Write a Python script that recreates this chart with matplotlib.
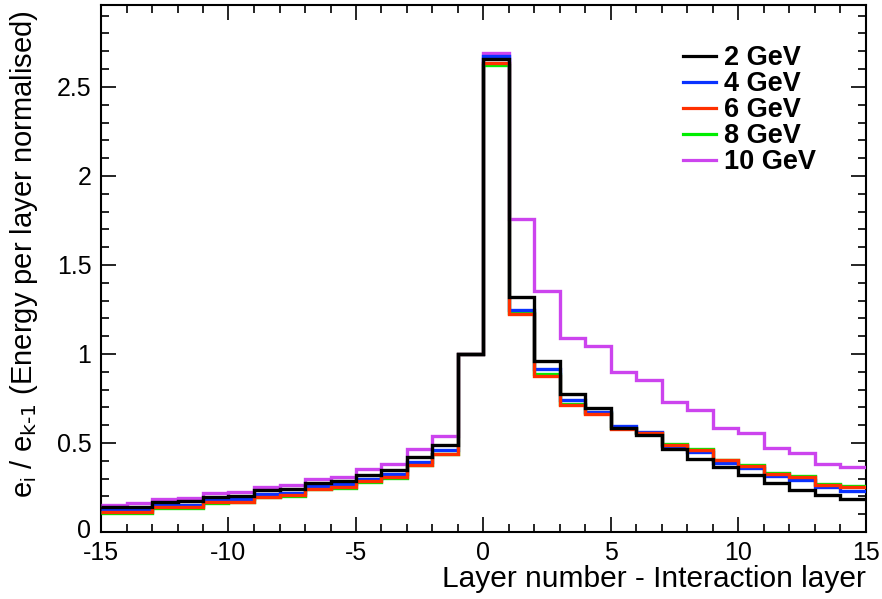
import numpy as np
import matplotlib
matplotlib.use("Agg")
import matplotlib.pyplot as plt
import matplotlib.transforms as mtransforms
from matplotlib.ticker import MultipleLocator, FormatStrFormatter

plt.rcParams['font.family'] = ['Liberation Sans', 'DejaVu Sans']
plt.rcParams['mathtext.default'] = 'regular'
plt.rcParams['axes.unicode_minus'] = False

# bin edges: layer number - interaction layer, -15 .. 15
edges = np.arange(-15, 16, 1)

labels = ["2 GeV", "4 GeV", "6 GeV", "8 GeV", "10 GeV"]

e2 = [0.142, 0.142, 0.169, 0.172, 0.198, 0.204, 0.236, 0.243, 0.277, 0.288, 0.322, 0.348, 0.421, 0.490,
      1.0, 2.655,
      1.320, 0.961, 0.775, 0.697, 0.586, 0.545, 0.464, 0.408, 0.363, 0.320, 0.277, 0.236, 0.208, 0.185]
e4 = [0.124, 0.124, 0.150, 0.153, 0.180, 0.184, 0.213, 0.221, 0.257, 0.268, 0.300, 0.324, 0.394, 0.463,
      1.0, 2.675,
      1.247, 0.914, 0.743, 0.676, 0.596, 0.560, 0.483, 0.448, 0.388, 0.361, 0.315, 0.292, 0.251, 0.232]
e6 = [0.111, 0.113, 0.138, 0.141, 0.167, 0.171, 0.199, 0.207, 0.243, 0.253, 0.285, 0.310, 0.378, 0.440,
      1.0, 2.635,
      1.225, 0.878, 0.713, 0.665, 0.579, 0.554, 0.489, 0.461, 0.403, 0.373, 0.326, 0.307, 0.264, 0.255]
e8 = [0.107, 0.109, 0.134, 0.137, 0.163, 0.167, 0.195, 0.203, 0.239, 0.249, 0.281, 0.305, 0.374, 0.437,
      1.0, 2.625,
      1.230, 0.890, 0.718, 0.668, 0.582, 0.557, 0.493, 0.465, 0.407, 0.378, 0.331, 0.312, 0.268, 0.260]
e10 = [0.154, 0.161, 0.185, 0.191, 0.217, 0.225, 0.255, 0.262, 0.296, 0.307, 0.354, 0.380, 0.467, 0.540,
       1.0, 2.690,
       1.758, 1.356, 1.092, 1.047, 0.897, 0.852, 0.732, 0.687, 0.586, 0.558, 0.474, 0.442, 0.382, 0.365]

series = [e2, e4, e6, e8, e10]
colors = ["#000000", "#0a32ff", "#ff3000", "#00ee00", "#cc44ee"]
zorders = [10, 6, 7, 5, 4]

fig = plt.figure(figsize=(8.82, 5.99), dpi=100)
ax = fig.add_axes([101/882, 1-532/599, (866-101)/882, (532-5)/599])

handles = []
for vals, c, lab, z in zip(series, colors, labels, zorders):
    ax.stairs(vals, edges, color=c, lw=2.4, zorder=z, baseline=None)
    h, = ax.plot([], [], color=c, lw=2.3, label=lab)
    handles.append(h)

ax.set_xlim(-15, 15)
ax.set_ylim(0, 2.96)

ax.xaxis.set_major_locator(MultipleLocator(5))
ax.xaxis.set_minor_locator(MultipleLocator(1))
ax.yaxis.set_major_locator(MultipleLocator(0.5))
ax.yaxis.set_minor_locator(MultipleLocator(0.1))
ax.yaxis.set_major_formatter(FormatStrFormatter('%g'))
ax.xaxis.set_major_formatter(FormatStrFormatter('%g'))

ax.tick_params(which='both', direction='in', top=True, right=True, width=1.2, labelsize=18)
ax.tick_params(which='major', length=11)
ax.tick_params(which='minor', length=5.5)
ax.tick_params(axis='x', pad=6.5)
ax.tick_params(axis='y', pad=7)
for s in ax.spines.values():
    s.set_linewidth(1.5)

ax.set_xlabel("Layer number - Interaction layer", fontsize=21.5, ha='right', x=1.0, va='center')
ax.set_ylabel(r"e$_{i}$ / e$_{\text{k-1}}$ (Energy per layer normalised)", fontsize=21,
              ha='right', y=1.0, va='center')
ax.xaxis.set_label_coords(1.0, -(579-532)/527)
ax.yaxis.set_label_coords(-(101-24)/765, 0.99)

leg = ax.legend(handles=handles, loc='upper left', bbox_to_anchor=(683/882, 1-45/599),
                bbox_transform=fig.transFigure, frameon=False, prop={'weight': 'bold', 'size': 19.5},
                handlelength=1.2, handletextpad=0.3, labelspacing=0.0, borderpad=0, borderaxespad=0)

# nudge the "0" y tick label slightly up so it does not collide with "-15"
fig.canvas.draw()
for t in ax.yaxis.get_majorticklabels():
    if t.get_text() == '0':
        t.set_transform(t.get_transform() + mtransforms.ScaledTranslation(0, 4/100, fig.dpi_scale_trans))

fig.savefig("out.png", dpi=100)
